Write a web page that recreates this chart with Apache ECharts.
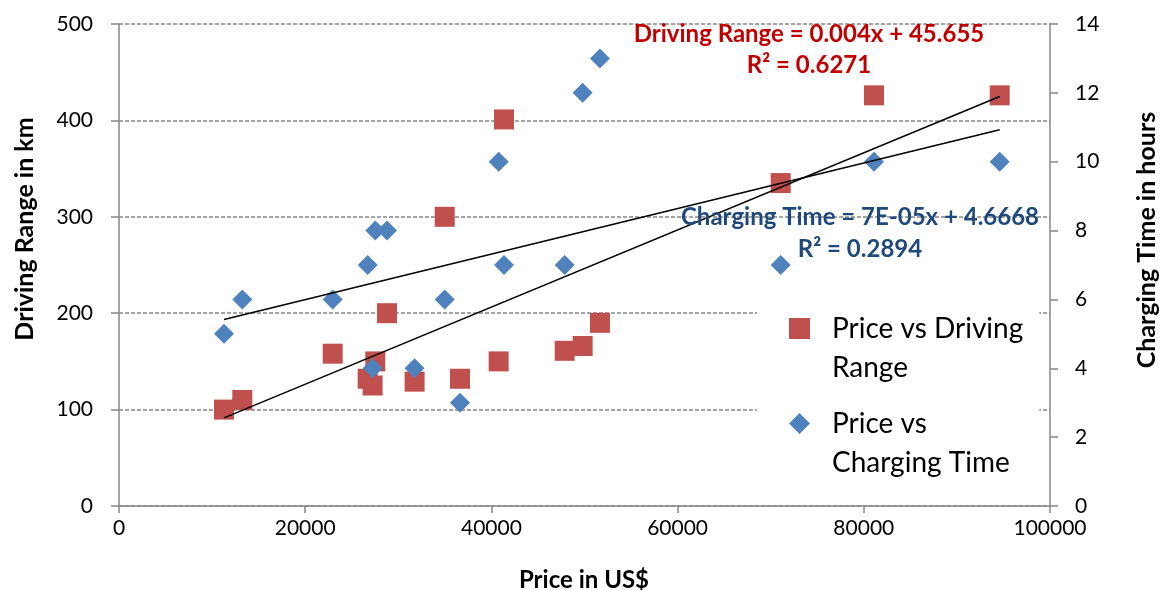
<!DOCTYPE html>
<html><head><meta charset="utf-8">
<script src="https://cdn.jsdelivr.net/npm/echarts@6/dist/echarts.min.js"></script>
<style>html,body{margin:0;padding:0;background:#fff}#c{width:1160px;height:590px}</style>
</head><body><div id="c"></div>
<script>
// ---- data ----
const prices        = [11278,13245,22954,26710,27240,27530,28786,31750,34985,36627,40780,41354,47870,49800,51660,71075,81095,94597];
const drivingRange  = [100,110,158,132,125,150,200,129,300,132,150,401,161,166,190,335,426,426];
const chargingTime  = [5,6,6,7,4,8,8,4,6,3,10,7,7,12,13,7,10,10];
const seriesNames   = ['Price vs Driving Range','Price vs Charging Time'];
const legendLabels  = ['Price vs Driving\nRange','Price vs\nCharging Time'];
const eqDriving     = ['Driving Range = 0.004x + 45.655','R\u00B2 = 0.6271'];
const eqCharging    = ['Charging Time = 7E-05x + 4.6668','R\u00B2 = 0.2894'];
const axisTitles    = {x:'Price in US$', yLeft:'Driving Range in km', yRight:'Charging Time in hours'};

// least-squares trendline (as the spreadsheet does)
function trend(xs, ys){
  const n = xs.length;
  const mx = xs.reduce((a,b)=>a+b,0)/n, my = ys.reduce((a,b)=>a+b,0)/n;
  let sxy=0, sxx=0;
  for(let i=0;i<n;i++){ sxy+=(xs[i]-mx)*(ys[i]-my); sxx+=(xs[i]-mx)*(xs[i]-mx); }
  const b = sxy/sxx, a = my - b*mx;
  const x0 = Math.min(...xs), x1 = Math.max(...xs);
  return [[x0, a+b*x0],[x1, a+b*x1]];
}
const zip = (xs,ys)=>xs.map((x,i)=>[x,ys[i]]);

const FONT = 'Lato';
const GREY = '#868686';
const chart = echarts.init(document.getElementById('c'), null, {renderer:'canvas'});
chart.setOption({
  animation:false,
  backgroundColor:'#fff',
  grid:{left:119, right:110, top:24, bottom:84, containLabel:false},
  xAxis:{type:'value', min:0, max:100000, interval:20000,
    axisLine:{show:true, lineStyle:{color:GREY, width:1.5}},
    axisTick:{show:true, inside:false, length:7, lineStyle:{color:GREY, width:1.5}},
    axisLabel:{fontFamily:FONT, fontSize:21, color:'#000', margin:12, formatter:(v)=>String(v)},
    splitLine:{show:false}},
  yAxis:[
    {type:'value', min:0, max:500, interval:100, position:'left',
      axisLine:{show:true, lineStyle:{color:GREY, width:1.5}},
      axisTick:{show:true, inside:false, length:8, lineStyle:{color:GREY, width:1.5}},
      axisLabel:{fontFamily:FONT, fontSize:21, color:'#000', margin:26},
      splitLine:{show:true, lineStyle:{color:GREY, width:1.5, type:[4,2]}}},
    {type:'value', min:0, max:14, interval:2, position:'right',
      axisLine:{show:true, lineStyle:{color:GREY, width:1.5}},
      axisTick:{show:true, inside:false, length:8, lineStyle:{color:GREY, width:1.5}},
      axisLabel:{fontFamily:FONT, fontSize:21, color:'#000', margin:25},
      splitLine:{show:false}}
  ],
  legend:{
    data:seriesNames, orient:'vertical', left:757, top:260, z:1,
    itemWidth:21, itemHeight:21, itemGap:-22, selectedMode:false,
    padding:[10,16,10,32], backgroundColor:'#fff',
    formatter:(name)=>'\n'+legendLabels[seriesNames.indexOf(name)],
    textStyle:{fontFamily:FONT, fontSize:28, color:'#000', lineHeight:39, padding:[0,0,0,17]}
  },
  series:[
    {name:seriesNames[0], type:'scatter', yAxisIndex:0, symbol:'rect', symbolSize:20, z:3,
      itemStyle:{color:'#C0504D', opacity:1}, data:zip(prices, drivingRange)},
    {name:seriesNames[1], type:'scatter', yAxisIndex:1, symbol:'diamond', symbolSize:20, z:4,
      itemStyle:{color:'#4F81BD', opacity:1}, data:zip(prices, chargingTime)},
    {name:'trendDriving', type:'line', yAxisIndex:0, symbol:'none', silent:true, z:5,
      lineStyle:{color:'#000', width:1.5}, data:trend(prices, drivingRange)},
    {name:'trendCharging', type:'line', yAxisIndex:1, symbol:'none', silent:true, z:5,
      lineStyle:{color:'#000', width:1.5}, data:trend(prices, chargingTime)}
  ],
  graphic:[
    {type:'text', x:25, y:229, rotation:Math.PI/2, z:10,
      style:{text:axisTitles.yLeft, font:'bold 25px '+FONT, fill:'#000', align:'center', verticalAlign:'middle'}},
    {type:'text', x:1147, y:240, rotation:Math.PI/2, z:10,
      style:{text:axisTitles.yRight, font:'bold 25px '+FONT, fill:'#000', align:'center', verticalAlign:'middle'}},
    {type:'text', x:584, y:580, z:10,
      style:{text:axisTitles.x, font:'bold 24px '+FONT, fill:'#000', align:'center', verticalAlign:'middle'}},
    {type:'text', x:809, y:34, z:10,
      style:{text:eqDriving[0], font:'bold 24px '+FONT, fill:'#C00000', align:'center', verticalAlign:'middle'}},
    {type:'text', x:809, y:65, z:10,
      style:{text:eqDriving[1], font:'bold 24px '+FONT, fill:'#C00000', align:'center', verticalAlign:'middle'}},
    {type:'text', x:860, y:217, z:10,
      style:{text:eqCharging[0], font:'bold 24px '+FONT, fill:'#1F497D', align:'center', verticalAlign:'middle'}},
    {type:'text', x:860, y:249, z:10,
      style:{text:eqCharging[1], font:'bold 24px '+FONT, fill:'#1F497D', align:'center', verticalAlign:'middle'}}
  ]
});
</script></body></html>
